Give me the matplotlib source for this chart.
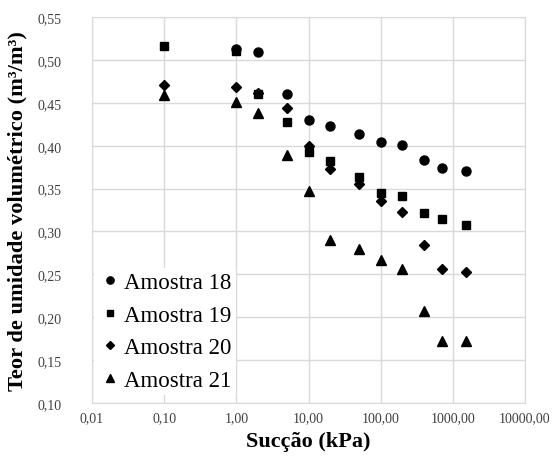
import matplotlib
matplotlib.use("Agg")
import matplotlib.pyplot as plt

plt.rcParams['font.family'] = ['Liberation Serif', 'DejaVu Serif']

# sucção (kPa)
s18 = [1, 2, 5, 10, 20, 50, 100, 200, 400, 700, 1500]
a18 = [0.513, 0.509, 0.460, 0.430, 0.423, 0.414, 0.404, 0.401, 0.383, 0.374, 0.370]

s19 = [0.1, 1, 2, 5, 10, 20, 50, 100, 200, 400, 700, 1500]
a19 = [0.516, 0.511, 0.460, 0.428, 0.393, 0.382, 0.363, 0.345, 0.341, 0.322, 0.315, 0.308]

s20 = [0.1, 1, 2, 5, 10, 20, 50, 100, 200, 400, 700, 1500]
a20 = [0.471, 0.468, 0.462, 0.444, 0.400, 0.373, 0.355, 0.335, 0.323, 0.284, 0.256, 0.253]

s21 = [0.1, 1, 2, 5, 10, 20, 50, 100, 200, 400, 700, 1500]
a21 = [0.459, 0.451, 0.438, 0.389, 0.347, 0.290, 0.280, 0.267, 0.256, 0.207, 0.172, 0.172]

xticks = [0.01, 0.1, 1, 10, 100, 1000, 10000]
xlabels = ['0,01', '0,10', '1,00', '10,00', '100,00', '1000,00', '10000,00']
yticks = [0.10, 0.15, 0.20, 0.25, 0.30, 0.35, 0.40, 0.45, 0.50, 0.55]

fig = plt.figure(figsize=(5.55, 4.64), dpi=100)
ax = fig.add_axes([0.1658, 0.1293, 0.7802, 0.8317])

ax.plot(s18, a18, 'o', color='black', ms=6.5, label='Amostra 18')
ax.plot(s19, a19, 's', color='black', ms=6, label='Amostra 19')
ax.plot(s20, a20, 'D', color='black', ms=5.5, label='Amostra 20')
ax.plot(s21, a21, '^', color='black', ms=7, label='Amostra 21')

ax.set_xscale('log')
ax.set_xlim(0.01, 10000)
ax.set_ylim(0.10, 0.55)
ax.set_xticks(xticks)
ax.set_xticklabels(xlabels)
ax.minorticks_off()
ax.set_yticks(yticks)
ax.set_yticklabels([('%.2f' % v).replace('.', ',') for v in yticks])
ax.tick_params(length=0, labelsize=10, labelcolor='#404040')
ax.tick_params(axis='y', pad=22)
ax.tick_params(axis='x', pad=6)

ax.grid(True, color='#d9d9d9', lw=1)
ax.set_axisbelow(True)
for sp in ax.spines.values():
    sp.set_color('#d9d9d9')

ax.set_xlabel('Sucção (kPa)', fontsize=16, fontweight='bold', labelpad=5)
ax.set_ylabel('Teor de umidade volumétrico (m³/m³)', fontsize=16.2,
              fontweight='bold', labelpad=7)

leg = ax.legend(loc='lower left', bbox_to_anchor=(0.005, 0.02), fontsize=16.5,
                frameon=True, framealpha=1, edgecolor='none', facecolor='white',
                handletextpad=0.1, handlelength=1.0, markerscale=0.8,
                labelspacing=0.5, borderpad=0.2, borderaxespad=0,
                fancybox=False)

fig.savefig('out.png', dpi=100)
